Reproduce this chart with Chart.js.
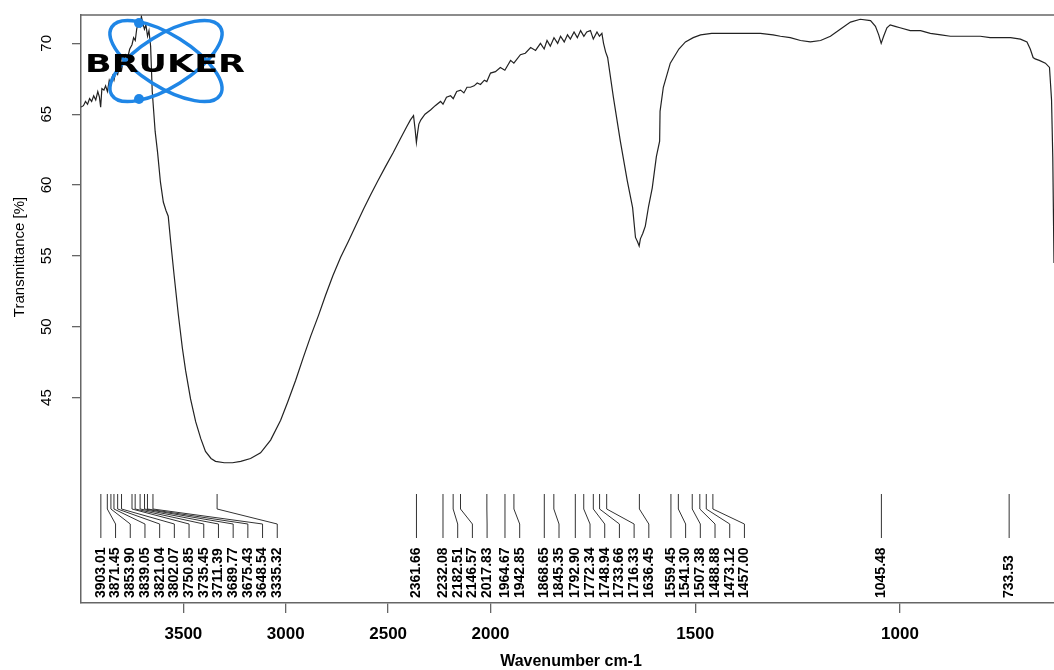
<!DOCTYPE html>
<html>
<head>
<meta charset="utf-8">
<title>FTIR spectrum</title>
<script src="https://cdn.jsdelivr.net/npm/chart.js@4.4.1/dist/chart.umd.min.js"></script>
<style>
  html, body { margin: 0; padding: 0; background: #ffffff; }
  #contenedor { width: 1054px; height: 670px; position: relative; }
</style>
</head>
<body>
<div id="contenedor"><canvas id="myChart"></canvas></div>
<script>
// spectrum (wavenumber cm-1 / transmittance %)
const wavenumbers = [
    4000, 3988, 3978, 3968, 3958, 3948, 3938, 3928, 3918, 3910, 3904, 3898, 3888, 3880, 3871, 3862,
    3854, 3846, 3839, 3830, 3821, 3812, 3802, 3792, 3782, 3772, 3762, 3751, 3743, 3735, 3728, 3720,
    3711, 3705, 3698, 3690, 3683, 3675, 3668, 3660, 3652, 3646, 3638, 3626, 3612, 3598, 3585, 3574,
    3562, 3545, 3525, 3505, 3489, 3465, 3440, 3415, 3392, 3365, 3343, 3300, 3260, 3220, 3172, 3123,
    3074, 3025, 2990, 2952, 2915, 2879, 2840, 2806, 2770, 2732, 2695, 2659, 2620, 2586, 2550, 2513,
    2475, 2439, 2410, 2391, 2376, 2368, 2362, 2356, 2350, 2340, 2320, 2293, 2270, 2244, 2232, 2215,
    2195, 2182, 2165, 2146, 2130, 2115, 2098, 2080, 2065, 2049, 2030, 2018, 2000, 1988, 1976, 1965,
    1951, 1943, 1927, 1915, 1902, 1890, 1878, 1869, 1862, 1854, 1845, 1836, 1829, 1820, 1812, 1805,
    1796, 1788, 1780, 1772, 1765, 1756, 1749, 1740, 1734, 1728, 1724, 1719, 1714, 1700, 1683, 1666,
    1653, 1646, 1641, 1637, 1634, 1628, 1622, 1614, 1605, 1595, 1587, 1586, 1578, 1561, 1540, 1524,
    1505, 1487, 1460, 1439, 1390, 1341, 1310, 1292, 1268, 1243, 1219, 1194, 1170, 1146, 1121, 1097,
    1072, 1060, 1052, 1046, 1040, 1032, 1024, 1012, 1000, 975, 950, 926, 900, 877, 840, 804,
    780, 755, 730, 706, 690, 682, 675, 670, 660, 645, 635, 630, 627, 624
];
const transmittance = [
    65.5, 65.6, 65.9, 65.7, 66.1, 65.9, 66.3, 66.0, 66.6, 66.2, 65.5, 66.8, 66.7, 67.0, 66.6, 67.4,
    67.1, 67.7, 67.4, 68.0, 67.8, 68.4, 68.1, 68.9, 69.2, 69.0, 69.6, 69.9, 70.4, 70.2, 71.0, 71.5,
    71.2, 71.9, 71.4, 71.0, 71.3, 70.5, 70.9, 69.8, 66.6, 65.4, 63.8, 62.3, 60.2, 58.8, 58.2, 57.8,
    56.0, 53.6, 50.9, 48.5, 46.9, 44.9, 43.3, 42.1, 41.2, 40.7, 40.5, 40.4, 40.4, 40.5, 40.7, 41.1,
    42.0, 43.4, 44.7, 46.2, 47.8, 49.3, 50.8, 52.2, 53.6, 54.9, 56.0, 57.1, 58.3, 59.3, 60.3, 61.3,
    62.3, 63.3, 64.1, 64.6, 64.9, 63.9, 63.0, 63.7, 64.3, 64.6, 65.0, 65.3, 65.6, 65.9, 65.7, 66.2,
    66.3, 66.1, 66.6, 66.7, 66.5, 66.9, 66.9, 67.0, 67.2, 67.1, 67.4, 67.3, 67.9, 68.0, 68.3, 68.1,
    68.8, 68.6, 69.2, 69.3, 69.7, 69.5, 70.0, 69.6, 70.2, 69.8, 70.4, 70.0, 70.5, 70.1, 70.6, 70.3,
    70.8, 70.4, 70.9, 70.5, 70.8, 70.9, 70.3, 70.8, 70.5, 70.7, 70.0, 69.4, 69.0, 66.2, 63.1, 60.3,
    58.4, 56.3, 56.0, 55.7, 56.2, 56.6, 57.1, 58.5, 59.8, 62.0, 63.1, 65.2, 66.9, 68.6, 69.6, 70.1,
    70.4, 70.6, 70.7, 70.7, 70.7, 70.7, 70.6, 70.5, 70.4, 70.2, 70.1, 70.2, 70.5, 71.0, 71.5, 71.7,
    71.6, 71.2, 70.6, 70.0, 70.5, 71.1, 71.3, 71.2, 71.1, 70.9, 70.9, 70.7, 70.6, 70.5, 70.5, 70.5,
    70.4, 70.4, 70.4, 70.3, 70.1, 69.6, 69.0, 68.9, 68.8, 68.6, 68.3, 66.0, 62.0, 54.5
];

// peak picks printed under the curve
const peaks = [
    3903.01, 3871.45, 3853.90, 3839.05, 3821.04, 3802.07, 3750.85, 3735.45, 3711.39, 3689.77,
    3675.43, 3648.54, 3335.32, 2361.66, 2232.08, 2182.51, 2146.57, 2017.83, 1964.67, 1942.85,
    1868.65, 1845.35, 1792.90, 1772.34, 1748.94, 1733.66, 1716.33, 1636.45, 1559.45, 1541.30,
    1507.38, 1488.88, 1473.12, 1457.00, 1045.48, 733.53
];

const xTickValues = [3500, 3000, 2500, 2000, 1500, 1000];
const yTickValues = [45, 50, 55, 60, 65, 70];

// OPUS style axis: below 2000 cm-1 the scale is stretched x2
const BREAK = 2000;
const EXPAND = 2;

class WavenumberScale extends Chart.LinearScale {
    _u(v) { return v >= BREAK ? v - BREAK : (v - BREAK) * EXPAND; }
    _uInv(u) { return u >= 0 ? u + BREAK : u / EXPAND + BREAK; }
    getPixelForValue(value) {
        if (value === null || isNaN(value)) return NaN;
        const u0 = this._u(this.min), u1 = this._u(this.max);
        return this.getPixelForDecimal((this._u(value) - u0) / (u1 - u0));
    }
    getValueForPixel(pixel) {
        const u0 = this._u(this.min), u1 = this._u(this.max);
        return this._uInv(u0 + this.getDecimalForPixel(pixel) * (u1 - u0));
    }
}
WavenumberScale.id = 'wavenumber';
WavenumberScale.defaults = Chart.LinearScale.defaults;
Chart.register(WavenumberScale);

function drawLogo(ctx) {
    const cx = 166, cy = 61;
    ctx.save();
    ctx.strokeStyle = '#1f86e6';
    ctx.lineWidth = 3.5;
    [0.56, -0.56].forEach(ang => {
        ctx.beginPath();
        ctx.ellipse(cx, cy, 64, 26, ang, 0, Math.PI * 2);
        ctx.stroke();
    });
    ctx.fillStyle = '#1f86e6';
    [[139, 23], [139, 99]].forEach(p => {
        ctx.beginPath();
        ctx.arc(p[0], p[1], 5, 0, Math.PI * 2);
        ctx.fill();
    });
    ctx.fillStyle = '#000';
    ctx.font = 'bold 25px "DejaVu Sans"';
    ctx.textBaseline = 'alphabetic';
    ctx.textAlign = 'left';
    const w = ctx.measureText('BRUKER').width;
    ctx.translate(85, 72);
    ctx.scale(160 / w, 1);
    ctx.fillText('BRUKER', 0, 0);
    ctx.restore();
}

const extras = {
    id: 'extras',
    afterDraw(chart) {
        const ctx = chart.ctx;
        const area = chart.chartArea;
        const xs = chart.scales.x;
        const ys = chart.scales.y;

        // top side of the frame
        ctx.save();
        ctx.strokeStyle = '#666';
        ctx.lineWidth = 1.5;
        ctx.beginPath();
        ctx.moveTo(area.left, area.top);
        ctx.lineTo(area.right, area.top);
        ctx.stroke();
        ctx.restore();

        // y tick labels, rotated
        ctx.save();
        ctx.fillStyle = '#000';
        ctx.font = '15px "Liberation Sans", Arial, sans-serif';
        ctx.textAlign = 'center';
        ctx.textBaseline = 'middle';
        yTickValues.forEach(v => {
            ctx.save();
            ctx.translate(47, ys.getPixelForValue(v));
            ctx.rotate(-Math.PI / 2);
            ctx.fillText(String(v), 0, 0);
            ctx.restore();
        });
        // axis titles
        ctx.save();
        ctx.translate(20, 257);
        ctx.rotate(-Math.PI / 2);
        ctx.fillText('Transmittance [%]', 0, 0);
        ctx.restore();
        ctx.font = 'bold 16px "Liberation Sans", Arial, sans-serif';
        ctx.fillText('Wavenumber cm-1', 571, 662);
        ctx.restore();

        // peak labels with leader lines, spread so they do not overlap
        const gap = 14.7;
        const yTop = area.bottom - 109, yBend1 = area.bottom - 94;
        const yBend2 = area.bottom - 79, yEnd = area.bottom - 65;
        const yText = area.bottom - 5;
        const items = peaks.map(p => ({ v: p, px: xs.getPixelForValue(p) }))
            .sort((a, b) => a.px - b.px);
        let last = -Infinity;
        items.forEach(it => {
            it.lx = Math.max(it.px, last + gap);
            last = it.lx;
        });
        ctx.save();
        ctx.strokeStyle = '#333';
        ctx.lineWidth = 1;
        items.forEach(it => {
            ctx.beginPath();
            ctx.moveTo(it.px, yTop);
            ctx.lineTo(it.px, yBend1);
            ctx.lineTo(it.lx, yBend2);
            ctx.lineTo(it.lx, yEnd);
            ctx.stroke();
        });
        ctx.fillStyle = '#000';
        ctx.font = 'bold 14px "Liberation Sans", Arial, sans-serif';
        ctx.textAlign = 'left';
        ctx.textBaseline = 'middle';
        items.forEach(it => {
            ctx.save();
            ctx.translate(it.lx, yText);
            ctx.rotate(-Math.PI / 2);
            ctx.fillText(it.v.toFixed(2), 0, 0);
            ctx.restore();
        });
        ctx.restore();

        drawLogo(ctx);
    }
};

const ctx = document.getElementById('myChart').getContext('2d');
new Chart(ctx, {
    type: 'line',
    data: {
        datasets: [{
            label: 'Spectrum',
            data: wavenumbers.map((w, i) => ({ x: w, y: transmittance[i] })),
            borderColor: '#222',
            borderWidth: 1.2,
            pointRadius: 0,
            fill: false,
            tension: 0
        }]
    },
    options: {
        responsive: true,
        maintainAspectRatio: false,
        animation: false,
        devicePixelRatio: 1,
        layout: { padding: { top: 15, right: 0, left: 0, bottom: 0 } },
        plugins: {
            legend: { display: false },
            tooltip: { enabled: false },
            title: { display: false }
        },
        scales: {
            x: {
                type: 'wavenumber',
                reverse: true,
                min: 624,
                max: 4000,
                afterBuildTicks: s => { s.ticks = xTickValues.map(v => ({ value: v })); },
                afterFit: s => { s.height = 67; },
                grid: { drawOnChartArea: false, drawTicks: true, tickLength: 10, color: '#666', lineWidth: 1.3 },
                border: { display: true, color: '#666', width: 1.5 },
                ticks: {
                    color: '#000',
                    padding: 11,
                    maxRotation: 0,
                    autoSkip: false,
                    font: { family: '"Liberation Sans", Arial, sans-serif', size: 17, weight: 'bold' },
                    callback: v => String(v)
                }
            },
            y: {
                type: 'linear',
                min: 30.5,
                max: 72,
                afterBuildTicks: s => { s.ticks = yTickValues.map(v => ({ value: v })); },
                afterFit: s => { s.width = 81; },
                grid: { drawOnChartArea: false, drawTicks: true, tickLength: 9, color: '#666', lineWidth: 1.3 },
                border: { display: true, color: '#666', width: 1.5 },
                ticks: { display: false }
            }
        }
    },
    plugins: [extras]
});
</script>
</body>
</html>
